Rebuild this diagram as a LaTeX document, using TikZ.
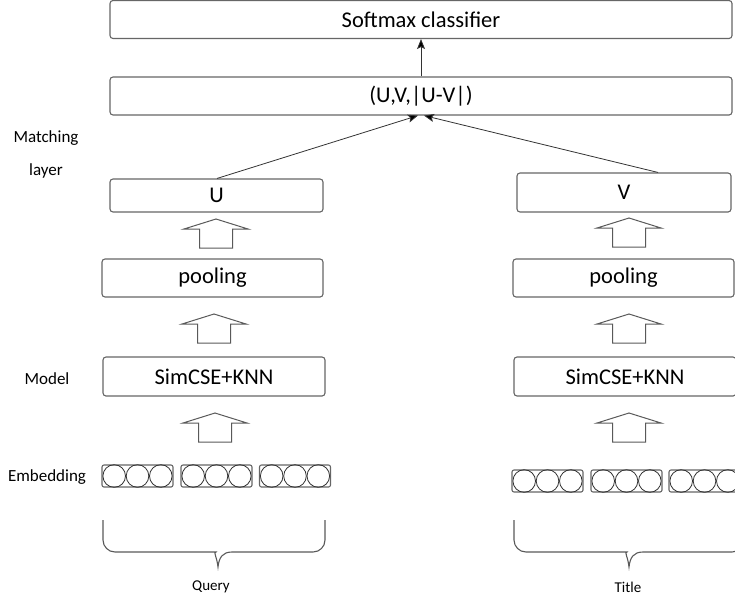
\documentclass[tikz,border=0pt]{standalone}
\usepackage{fontspec}
\setmainfont{Carlito}
\usetikzlibrary{arrows.meta,calc}
\tikzset{
  box/.style={draw=black!60, line width=1.1pt, rounded corners=3pt, fill=white, inner sep=0pt, font=\fontsize{22.5}{26}\selectfont},
  grp/.style={draw=black!60, line width=1.1pt, rounded corners=2pt, minimum width=71pt, minimum height=22pt, inner sep=0pt},
  lab/.style={font=\fontsize{17}{20}\selectfont, inner sep=0pt},
  small/.style={font=\fontsize{15}{18}\selectfont, inner sep=0pt},
  conn/.style={draw=black!80, line width=0.8pt, -{Stealth[length=10pt,width=8pt,inset=2pt,fill=black]}},
  hollow/.style={draw=black!65, line width=1pt, fill=white, line join=miter},
  brace/.style={draw=black!65, line width=1.1pt},
  circ/.style={draw=black!80, line width=0.8pt}
}
\newcommand{\hollowarrow}[2]{% center x, tip y
  \draw[hollow] (#1,#2) -- (#1+32,#2+10) -- (#1+16.5,#2+10) -- (#1+16.5,#2+29)
    -- (#1-16.5,#2+29) -- (#1-16.5,#2+10) -- (#1-32,#2+10) -- cycle;}
\newcommand{\bracepath}[3]{% left x, tip x, right x
  \draw[brace] [rounded corners=12pt] (#1,520) -- (#1,552) -- (#2-14,552) [sharp corners]
    .. controls (#2-5,552) and (#2-1,557) .. (#2,567) .. controls (#2+1,557) and (#2+5,552) .. (#2+14,552)
    [rounded corners=12pt] -- (#3,552) -- (#3,520);}
\begin{document}
\begin{tikzpicture}[x=1pt,y=-1pt]
\useasboundingbox (0,0) rectangle (735,600);
% boxes
\node[box, minimum width=622pt, minimum height=38pt] (soft) at (421,19.5) {Softmax classifier};
\node[box, minimum width=622pt, minimum height=38pt] (uv) at (421,96) {(U,V,|U-V|)};
\node[box, minimum width=213pt, minimum height=33pt] (U) at (216.5,195.5) {U};
\node[box, minimum width=214pt, minimum height=39pt] (V) at (624,192.5) {V};
\node[box, minimum width=221pt, minimum height=38pt] (poolL) at (212.5,278) {pooling};
\node[box, minimum width=221pt, minimum height=38pt] (poolR) at (623.5,278) {pooling};
\node[box, minimum width=222pt, minimum height=39pt] (simL) at (214,376.5) {SimCSE+KNN};
\node[box, minimum width=222pt, minimum height=39pt] (simR) at (625,376.5) {SimCSE+KNN};
% embeddings
\foreach \n/\cx/\cy in {eL1/137.5/476, eL2/216.5/476, eL3/295/476, eR1/547.5/481, eR2/626.5/481, eR3/704.5/481}{
  \node[grp] (\n) at (\cx,\cy) {};
  \foreach \d in {-23.3,0,23.3}{
    \draw[circ] ($(\n.center)+(\d,0)$) circle (11.3pt);
  }
}
% side labels
\node[lab] (lm) at (46,138) {Matching};
\node[lab] (ll) at (46,171) {layer};
\node[lab] (lmo) at (47,379) {Model};
\node[lab] (le) at (47,477) {Embedding};
\node[small] (q) at (211,587) {Query};
\node[small] (t) at (628,587) {Title};
% connectors
\draw[conn] (uv.north) -- (soft.south);
\draw[conn] ([xshift=0.5pt]U.north) -- ([xshift=-3pt]uv.south);
\draw[conn] ([xshift=34pt]V.north) -- ([xshift=3pt]uv.south);
% hollow arrows
\hollowarrow{216}{219}
\hollowarrow{214}{314}
\hollowarrow{215}{413}
\hollowarrow{629}{218}
\hollowarrow{629}{314}
\hollowarrow{629}{413}
% braces
\bracepath{103}{218}{325}
\bracepath{514}{629}{744}
\end{tikzpicture}
\end{document}
